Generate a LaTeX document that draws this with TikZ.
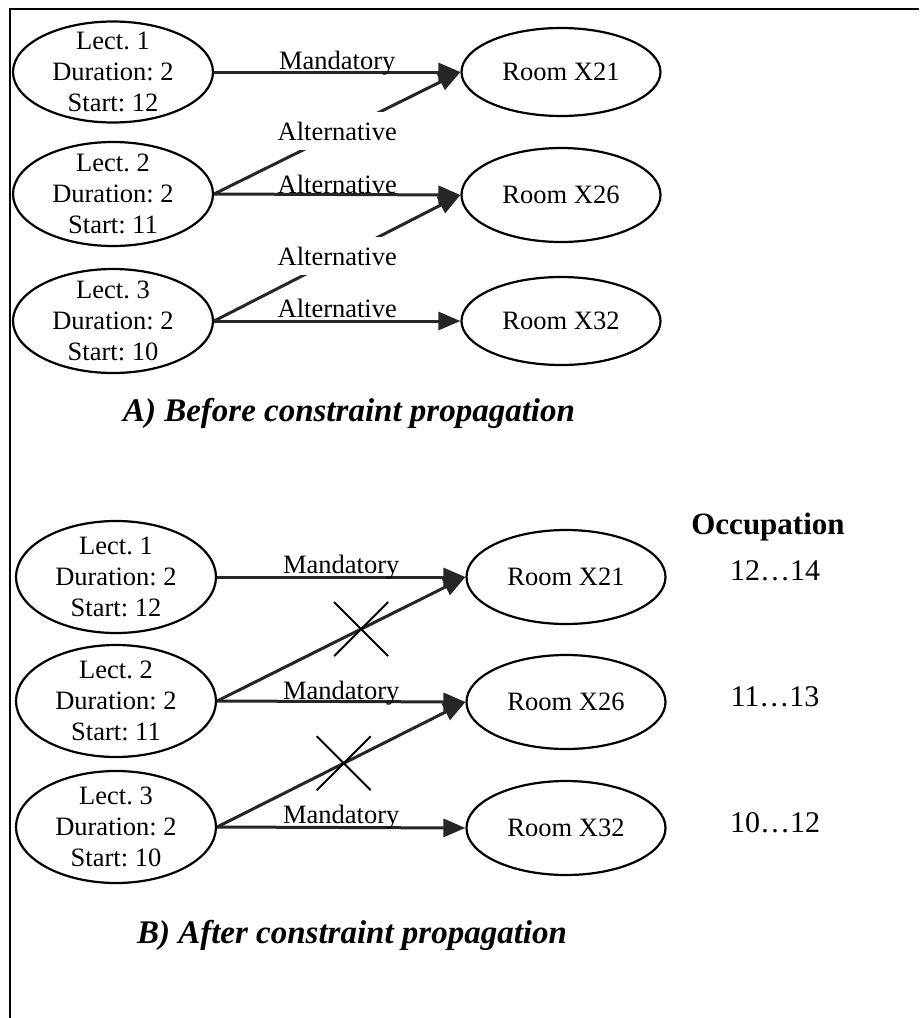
\documentclass[tikz,border=0pt]{standalone}
\usepackage{fontspec}
\setmainfont{Liberation Serif}
\usetikzlibrary{shapes.geometric,arrows.meta,calc}
\frenchspacing
\begin{document}
\begin{tikzpicture}[x=1pt,y=-1pt,
  every node/.style={font=\fontsize{26.5}{31}\selectfont},
  lect/.style={ellipse, draw, line width=2.2pt, minimum width=200pt, inner sep=0pt},
  room/.style={ellipse, draw, line width=2.2pt, minimum width=199pt, inner sep=0pt},
  conn/.style={line width=3pt, draw=black!85, -{Triangle[length=22pt,width=18pt]}},
  onlab/.style={pos=0.5, anchor=base, yshift=4pt, inner sep=0pt},
  cutlab/.style={pos=0.5, fill=white, inner xsep=6pt, inner ysep=10pt, yshift=2pt},
  cross/.style={line width=2pt},
  ttl/.style={font=\fontsize{33}{40}\selectfont\bfseries\itshape},
  occ/.style={font=\fontsize{31}{36}\selectfont\bfseries},
  num/.style={font=\fontsize{30}{36}\selectfont},
  txt/.style={align=center, inner sep=0pt}
]
\useasboundingbox (0,0) rectangle (919,1018);
\draw[line width=2.2pt] (919,9) -- (10,9) -- (10,1018);

% ---- Part A ----
\node[lect, minimum height=101pt, label={[txt]center:{Lect. 1\\Duration: 2\\Start: 12}}] (a1) at (113,72) {};
\node[lect, minimum height=104pt, label={[txt]center:{Lect. 2\\Duration: 2\\Start: 11}}] (a2) at (113,194) {};
\node[lect, minimum height=104pt, label={[txt]center:{Lect. 3\\Duration: 2\\Start: 10}}] (a3) at (113,321) {};
\node[room, minimum height=88pt] (ra1) at (561,72) {Room X21};
\node[room, minimum height=94pt] (ra2) at (561,195) {Room X26};
\node[room, minimum height=88pt] (ra3) at (561,321) {Room X32};

\draw[conn] (a1.east) -- node[onlab, yshift=-1pt] {Mandatory} (ra1.west);
\draw[conn] (a2.east) -- node[cutlab] {Alternative} (ra1.west);
\draw[conn] (a2.east) -- node[onlab, yshift=-3pt] {Alternative} (ra2.west);
\draw[conn] (a3.east) -- node[cutlab] {Alternative} (ra2.west);
\draw[conn] (a3.east) -- node[onlab, yshift=0pt] {Alternative} (ra3.west);

\node[ttl] (ta) at (349,413) {A) Before constraint propagation};

% ---- Part B ----
\node[lect, minimum height=112pt, label={[txt]center:{Lect. 1\\Duration: 2\\Start: 12}}] (b1) at (116,577) {};
\node[lect, minimum height=112pt, label={[txt]center:{Lect. 2\\Duration: 2\\Start: 11}}] (b2) at (116,701) {};
\node[lect, minimum height=112pt, label={[txt]center:{Lect. 3\\Duration: 2\\Start: 10}}] (b3) at (116,827) {};
\node[room, minimum height=94pt] (rb1) at (566,577) {Room X21};
\node[room, minimum height=94pt] (rb2) at (566,702) {Room X26};
\node[room, minimum height=94pt] (rb3) at (566,828) {Room X32};

\draw[conn] (b1.east) -- node[onlab] {Mandatory} (rb1.west);
\draw[conn] (b2.east) -- coordinate[pos=0.58] (x1) (rb1.west);
\draw[conn] (b2.east) -- node[onlab, yshift=-2pt] {Mandatory} (rb2.west);
\draw[conn] (b3.east) -- coordinate[pos=0.51] (x2) (rb2.west);
\draw[conn] (b3.east) -- node[onlab] {Mandatory} (rb3.west);

\draw[cross] ($(x1)+(-27,-27)$) -- ($(x1)+(27,27)$);
\draw[cross] ($(x1)+(27,-27)$) -- ($(x1)+(-27,27)$);
\draw[cross] ($(x2)+(-27,-27)$) -- ($(x2)+(27,27)$);
\draw[cross] ($(x2)+(27,-27)$) -- ($(x2)+(-27,27)$);

\node[occ] (oc) at (768,527) {Occupation};
\node[num] (o1) at (775,571) {12…14};
\node[num] (o2) at (775,697) {11…13};
\node[num] (o3) at (775,823) {10…12};

\node[ttl] (tb) at (352,935) {B) After constraint propagation};
\end{tikzpicture}
\end{document}
